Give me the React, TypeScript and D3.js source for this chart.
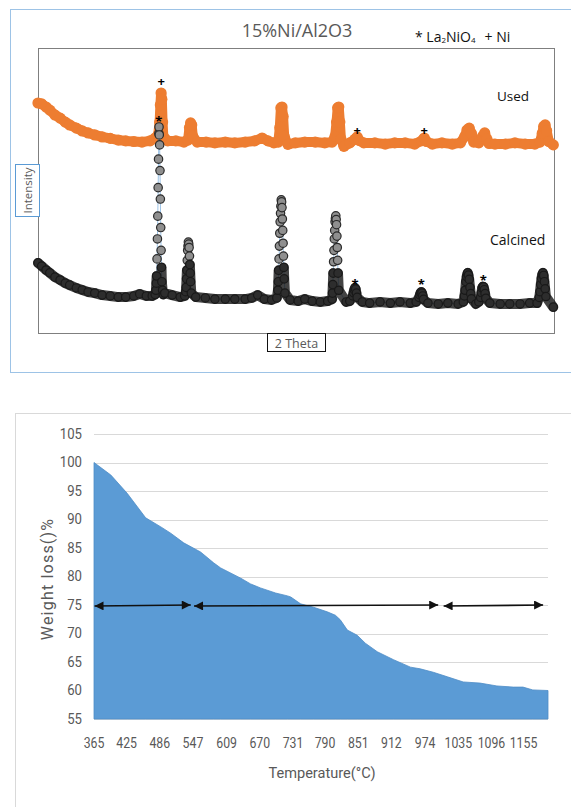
import * as d3 from 'd3';
import React, { useRef, useEffect } from 'react';

// XRD scans, [2 theta (deg), intensity (a.u.)]
const usedScan: [number, number][] = [
  [10.0, 807], [10.5, 804], [11.1, 793], [11.6, 782], [12.3, 765], [13.0, 754], [13.7, 740],
  [14.3, 730], [15.2, 719], [16.0, 709], [16.8, 702], [17.7, 695], [18.7, 688], [19.8, 683],
  [20.9, 677], [21.9, 674], [23.0, 672], [24.1, 670], [25.2, 674], [25.9, 684], [26.3, 695],
  [26.5, 740], [26.6, 800], [26.7, 842], [26.8, 820], [26.9, 740], [27.0, 690], [27.6, 674],
  [28.7, 674], [29.8, 670], [30.35, 677], [30.55, 720], [30.7, 737], [30.85, 730], [31.0, 690],
  [31.6, 670], [32.8, 670], [34.0, 667], [35.4, 670], [36.7, 667], [38.1, 670], [39.4, 674],
  [40.4, 684], [41.2, 674], [42.0, 667], [42.6, 670], [42.8, 720], [42.95, 790], [43.1, 793],
  [43.25, 760], [43.4, 690], [43.9, 662], [44.9, 667], [46.2, 670], [47.6, 670], [48.9, 667],
  [49.9, 670], [50.3, 690], [50.5, 740], [50.65, 790], [50.8, 793], [50.95, 740], [51.1, 680],
  [51.5, 655], [52.3, 667], [53.0, 680], [53.3, 688], [53.6, 675], [54.2, 667], [55.7, 667],
  [57.1, 663], [58.4, 667], [59.8, 667], [61.1, 663], [62.1, 675], [62.4, 684], [62.7, 672],
  [63.5, 663], [64.8, 667], [66.2, 663], [67.3, 667], [67.9, 690], [68.2, 712], [68.5, 719],
  [68.8, 700], [69.1, 670], [69.8, 667], [70.3, 690], [70.6, 702], [70.9, 680], [71.2, 665],
  [72.0, 663], [73.4, 663], [74.7, 667], [76.1, 663], [77.4, 663], [78.1, 670], [78.4, 700],
  [78.6, 725], [78.8, 730], [79.0, 710], [79.3, 672], [79.9, 660]
];

const calcinedScan: [number, number][] = [
  [10.0, 246], [10.5, 235], [11.1, 221], [11.6, 211], [12.3, 196], [13.0, 186], [13.7, 175],
  [14.3, 168], [15.2, 158], [16.0, 151], [16.8, 144], [17.7, 140], [18.7, 133], [19.8, 130],
  [20.9, 126], [21.9, 126], [23.0, 130], [23.8, 137], [24.7, 130], [25.5, 130], [25.9, 135],
  [26.0, 150], [26.05, 175], [26.1, 200], [26.15, 260], [26.2, 330], [26.25, 410], [26.3, 510],
  [26.35, 610], [26.4, 700], [26.42, 723], [26.45, 695], [26.5, 660], [26.55, 570], [26.6, 470],
  [26.65, 370], [26.7, 290], [26.75, 230], [26.8, 180], [26.9, 150], [27.0, 135], [27.2, 140],
  [28.2, 133], [29.3, 126], [29.9, 130], [30.05, 145], [30.1, 160], [30.15, 190], [30.2, 220],
  [30.25, 255], [30.3, 290], [30.35, 305], [30.4, 319], [30.45, 312], [30.5, 300], [30.55, 270],
  [30.6, 240], [30.65, 210], [30.7, 180], [30.8, 140], [31.4, 126], [32.7, 123], [34.0, 119],
  [35.4, 119], [36.7, 119], [38.1, 119], [39.0, 123], [39.8, 133], [40.7, 119], [41.7, 116],
  [42.4, 123], [42.55, 150], [42.6, 180], [42.65, 220], [42.7, 260], [42.75, 305], [42.8, 350],
  [42.85, 390], [42.9, 420], [42.95, 445], [43.0, 467], [43.05, 460], [43.1, 440], [43.15, 400],
  [43.2, 360], [43.25, 315], [43.3, 270], [43.35, 230], [43.4, 190], [43.5, 140], [44.2, 116],
  [45.3, 112], [46.2, 119], [47.2, 112], [48.3, 109], [49.3, 112], [49.9, 119], [49.95, 140],
  [50.0, 170], [50.05, 210], [50.1, 250], [50.15, 290], [50.2, 330], [50.25, 360], [50.3, 390],
  [50.35, 402], [50.4, 411], [50.45, 398], [50.5, 380], [50.55, 340], [50.6, 300], [50.65, 255],
  [50.7, 210], [50.8, 150], [51.8, 109], [52.3, 112], [52.7, 130], [52.8, 142], [52.9, 152],
  [53.0, 158], [53.1, 154], [53.2, 140], [53.3, 125], [54.0, 109], [55.0, 105], [56.4, 109],
  [57.8, 105], [59.1, 109], [60.5, 105], [61.3, 109], [61.7, 125], [61.8, 134], [61.9, 141],
  [62.0, 144], [62.1, 140], [62.2, 130], [62.3, 118], [62.9, 105], [64.3, 102], [65.6, 105],
  [67.0, 102], [67.7, 109], [67.85, 130], [67.95, 150], [68.05, 180], [68.15, 198], [68.25, 208],
  [68.3, 211], [68.4, 203], [68.5, 188], [68.6, 160], [68.7, 138], [68.8, 120], [69.4, 102],
  [69.8, 109], [70.05, 125], [70.15, 142], [70.25, 158], [70.35, 163], [70.45, 162], [70.55, 152],
  [70.65, 138], [70.75, 122], [71.3, 105], [72.7, 102], [74.0, 102], [75.4, 102], [76.7, 105],
  [77.7, 105], [78.0, 125], [78.1, 145], [78.2, 170], [78.3, 192], [78.4, 205], [78.5, 211],
  [78.6, 202], [78.7, 180], [78.8, 155], [78.9, 128], [79.9, 91]
];

// phase marks above peaks: "+" Ni on used, "*" La2NiO4 on calcined
const niMarks: [number, number][] = [[26.7, 884], [53.3, 709], [62.4, 709]];
const laMarks: [number, number][] = [[26.4, 758], [53.0, 186], [62.0, 186], [70.4, 200]];

// TGA curve
const tgaTemp = [365, 396, 426, 460, 488, 506, 530, 561, 585, 598, 635, 653, 671, 699, 721, 727,
  745, 769, 794, 809, 818, 831, 849, 864, 886, 916, 947, 965, 989, 1015, 1044, 1075, 1106, 1136,
  1154, 1172, 1200];
const tgaWeight = [100, 97.8, 94.6, 90.3, 88.7, 87.6, 85.9, 84.3, 82.4, 81.5, 79.7, 78.7, 78.0,
  77.1, 76.6, 76.4, 75.2, 74.6, 73.8, 73.2, 72.4, 70.6, 69.7, 68.3, 66.8, 65.4, 64.1, 63.8, 63.2,
  62.4, 61.5, 61.3, 60.8, 60.6, 60.6, 60.1, 60.0];
const tempTicks = [365, 425, 486, 547, 609, 670, 731, 790, 851, 912, 974, 1035, 1096, 1155];
const weightTicks = [55, 60, 65, 70, 75, 80, 85, 90, 95, 100, 105];
const stageLevel = 75;
const stages: [number, number][] = [[366, 543], [549, 998], [1008, 1191]];

const gray = '#595959';

function App() {
  const ref = useRef<SVGSVGElement>(null);

  useEffect(() => {
    const svg = d3.select(ref.current);
    svg.selectAll('*').remove();
    drawXrd(svg);
    drawTga(svg);
  }, []);

  const drawXrd = (svg: any) => {
    const box = { left: 38, top: 48, right: 554, bottom: 333 };
    const x = d3.scaleLinear().domain([10, 80]).range([box.left, box.right]);
    const y = d3.scaleLinear().domain([0, 1000]).range([box.bottom, box.top]);
    const font = "'Open Sans', sans-serif";

    svg.append('rect')
      .attr('x', 10.5).attr('y', 9.5).attr('width', 600).attr('height', 363)
      .attr('fill', 'none').attr('stroke', '#9dc3e6');

    svg.append('rect')
      .attr('x', box.left + 0.5).attr('y', box.top + 0.5)
      .attr('width', box.right - box.left).attr('height', box.bottom - box.top)
      .attr('fill', 'none').attr('stroke', '#7f7f7f');

    const line = d3.line<[number, number]>().x(d => x(d[0])).y(d => y(d[1]));

    // used - orange
    svg.append('path')
      .attr('d', line(usedScan))
      .attr('fill', 'none').attr('stroke', '#ed7d31')
      .attr('stroke-width', 10).attr('stroke-linejoin', 'round').attr('stroke-linecap', 'round');
    svg.append('g').selectAll('circle')
      .data(usedScan).enter().append('circle')
      .attr('cx', (d: any) => x(d[0])).attr('cy', (d: any) => y(d[1]))
      .attr('r', 5.6).attr('fill', '#ed7d31');

    // calcined - gray markers, dense part shows as a dark band
    svg.append('path')
      .attr('d', line(calcinedScan))
      .attr('fill', 'none').attr('stroke', '#9dc3e6').attr('stroke-width', 1);
    svg.append('g').selectAll('circle')
      .data(calcinedScan).enter().append('circle')
      .attr('cx', (d: any) => x(d[0])).attr('cy', (d: any) => y(d[1]))
      .attr('r', 4.2).attr('fill', '#8f8f8f')
      .attr('stroke', '#2a2a2a').attr('stroke-width', 1.2);
    svg.append('path')
      .attr('d', d3.line<[number, number]>().x(d => x(d[0])).y(d => y(d[1]))
        .defined(d => d[1] < 250)(calcinedScan))
      .attr('fill', 'none').attr('stroke', '#141414').attr('stroke-opacity', 0.8)
      .attr('stroke-width', 10).attr('stroke-linejoin', 'round').attr('stroke-linecap', 'round');

    svg.append('g').selectAll('text')
      .data(niMarks).enter().append('text')
      .attr('x', (d: any) => x(d[0])).attr('y', (d: any) => y(d[1]))
      .attr('dy', '0.35em').attr('text-anchor', 'middle')
      .attr('font-family', font).attr('font-size', 13).attr('font-weight', 'bold')
      .text('+');
    svg.append('g').selectAll('text')
      .data(laMarks).enter().append('text')
      .attr('x', (d: any) => x(d[0])).attr('y', (d: any) => y(d[1]))
      .attr('dy', '0.7em').attr('text-anchor', 'middle')
      .attr('font-family', font).attr('font-size', 13).attr('font-weight', 'bold')
      .text('*');

    svg.append('text')
      .attr('x', 297).attr('y', 37).attr('text-anchor', 'middle')
      .attr('font-family', font).attr('font-size', 18).attr('fill', gray)
      .text('15%Ni/Al2O3');

    const legend = svg.append('text')
      .attr('x', 415).attr('y', 42)
      .attr('font-family', font).attr('font-size', 14).attr('fill', '#111');
    legend.append('tspan').text('* La');
    legend.append('tspan').attr('font-size', 8).attr('dy', 1).text('2');
    legend.append('tspan').attr('dy', -1).text('NiO');
    legend.append('tspan').attr('font-size', 8).attr('dy', 1).text('4');
    legend.append('tspan').attr('dy', -1).attr('dx', 9).text('+ Ni');

    svg.append('text')
      .attr('x', 497).attr('y', 101)
      .attr('font-family', font).attr('font-size', 13.5).attr('fill', '#111')
      .text('Used');
    svg.append('text')
      .attr('x', 490).attr('y', 245)
      .attr('font-family', font).attr('font-size', 14).attr('fill', '#111')
      .text('Calcined');

    // axis title boxes
    svg.append('rect')
      .attr('x', 15.5).attr('y', 164.5).attr('width', 24).attr('height', 52)
      .attr('fill', 'white').attr('stroke', '#5b9bd5');
    svg.append('text')
      .attr('transform', 'translate(32,190.5) rotate(-90)')
      .attr('text-anchor', 'middle')
      .attr('font-family', font).attr('font-size', 11.5).attr('fill', gray)
      .text('Intensity');

    svg.append('rect')
      .attr('x', 267.5).attr('y', 333.5).attr('width', 58).attr('height', 18)
      .attr('fill', 'white').attr('stroke', '#111');
    svg.append('text')
      .attr('x', 296.5).attr('y', 347.5).attr('text-anchor', 'middle')
      .attr('font-family', font).attr('font-size', 12.5).attr('fill', gray)
      .text('2 Theta');
  };

  const drawTga = (svg: any) => {
    const x = d3.scaleLinear().domain([365, 1200]).range([94, 548]);
    const y = d3.scaleLinear().domain([55, 105]).range([719, 434]);
    const font = "Roboto, sans-serif";
    const data = tgaTemp.map((t, i) => [t, tgaWeight[i]] as [number, number]);

    svg.append('rect')
      .attr('x', 15.5).attr('y', 413.5).attr('width', 600).attr('height', 420)
      .attr('fill', 'none').attr('stroke', '#d9d9d9');

    svg.append('g').selectAll('line')
      .data(weightTicks).enter().append('line')
      .attr('x1', 94).attr('x2', 548)
      .attr('y1', (d: number) => Math.round(y(d)) + 0.5).attr('y2', (d: number) => Math.round(y(d)) + 0.5)
      .attr('stroke', '#d9d9d9');

    const area = d3.area<[number, number]>()
      .x(d => x(d[0])).y0(y(55)).y1(d => y(d[1]));
    svg.append('path')
      .attr('d', area(data))
      .attr('fill', '#5b9bd5').attr('stroke', '#4f8dc7').attr('stroke-width', 0.8);

    svg.append('g').selectAll('text')
      .data(weightTicks).enter().append('text')
      .attr('x', 82).attr('y', (d: number) => y(d)).attr('dy', '0.35em')
      .attr('text-anchor', 'end')
      .attr('font-family', font).attr('font-size', 14).attr('fill', gray)
      .attr('textLength', (d: number) => String(d).length * 7.4)
      .attr('lengthAdjust', 'spacingAndGlyphs')
      .text((d: number) => d);

    svg.append('g').selectAll('text')
      .data(tempTicks).enter().append('text')
      .attr('x', (d: number) => x(d)).attr('y', 748).attr('text-anchor', 'middle')
      .attr('font-family', font).attr('font-size', 14).attr('fill', gray)
      .attr('textLength', (d: number) => String(d).length * 6.9)
      .attr('lengthAdjust', 'spacingAndGlyphs')
      .text((d: number) => d);

    const defs = svg.append('defs');
    defs.append('marker')
      .attr('id', 'arrow').attr('viewBox', '0 0 10 10')
      .attr('refX', 10).attr('refY', 5)
      .attr('markerWidth', 10).attr('markerHeight', 9)
      .attr('markerUnits', 'userSpaceOnUse')
      .attr('orient', 'auto-start-reverse')
      .append('path').attr('d', 'M0,0 L10,5 L0,10 z').attr('fill', '#111');

    svg.append('g').selectAll('line')
      .data(stages).enter().append('line')
      .attr('x1', (d: any) => x(d[0])).attr('x2', (d: any) => x(d[1]))
      .attr('y1', y(stageLevel) + 1).attr('y2', y(stageLevel))
      .attr('stroke', '#111').attr('stroke-width', 1.6)
      .attr('marker-start', 'url(#arrow)').attr('marker-end', 'url(#arrow)');

    svg.append('text')
      .attr('transform', 'translate(53,579) rotate(-90)')
      .attr('text-anchor', 'middle')
      .attr('font-family', font).attr('font-size', 16).attr('letter-spacing', 1.2).attr('fill', gray)
      .text('Weight loss()%');

    svg.append('text')
      .attr('x', 322).attr('y', 778).attr('text-anchor', 'middle')
      .attr('font-family', font).attr('font-size', 15).attr('fill', gray)
      .attr('textLength', 107).attr('lengthAdjust', 'spacingAndGlyphs')
      .text('Temperature(°C)');
  };

  return (
    <div style={{ position: 'absolute', left: 0, top: 0, background: 'white' }}>
      <svg ref={ref} width={571} height={807} style={{ display: 'block' }}></svg>
    </div>
  );
}

export default App;
